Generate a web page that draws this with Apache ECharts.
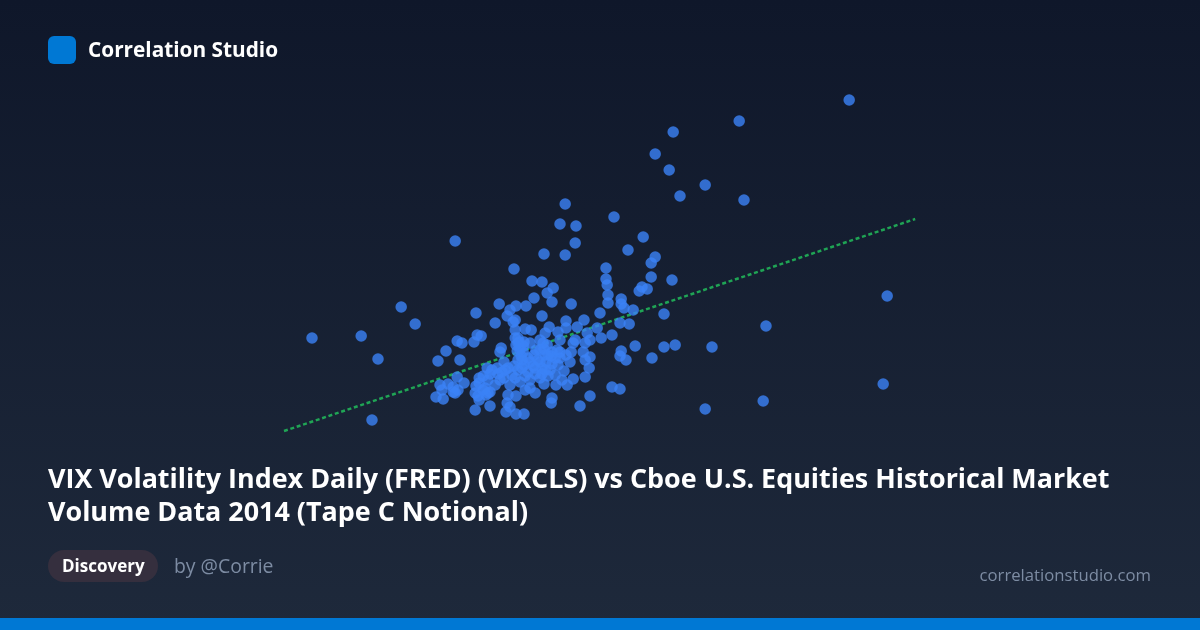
<!DOCTYPE html>
<html><head><meta charset="utf-8">
<style>html,body{margin:0;padding:0;background:#0f172a}#c{width:1200px;height:630px}</style>
<script src="https://cdn.jsdelivr.net/npm/echarts@6/dist/echarts.min.js"></script>
</head><body><div id="c"></div>
<script>
const brand = "Correlation Studio";
const titleLines = ["VIX Volatility Index Daily (FRED) (VIXCLS) vs Cboe U.S. Equities Historical Market","Volume Data 2014 (Tape C Notional)"];
const tag = "Discovery";
const author = "by @Corrie";
const site = "correlationstudio.com";
const vix = [
23.73,20.98,19.33,18.88,19.23,20.13,19.5,21.1,16.63,17.85,
16.5,16.9,18.58,13.88,16.88,18.2,16.1,16.63,18.88,18.78,
17.65,15.35,19.3,18.78,17.65,15.8,16.05,17.68,18.55,18.48,
18.68,16.33,16.18,24.68,17.7,15.85,18.03,16.3,17.7,16.78,
14.98,18.03,18.1,12.53,15.4,15.65,18.33,17.5,14.4,15.25,
15.18,19.1,16.05,15.33,15.38,14.88,16.65,17.1,18,18.23,
21.65,16.23,15.63,15.78,15.38,16.45,16.65,16.93,17.43,12.88,
11.53,10.3,14.43,14.53,14.35,13.93,14.05,13.65,13.45,14,
15.03,15,15.38,15.45,15.75,15.5,15.58,16.13,16.08,16.18,
16.88,16.83,17.18,17.25,17.13,17.53,17.8,18.38,18.8,18.03,
18,18.15,17.25,17.08,17.13,16.78,17.23,17.13,16.83,16.6,
16.68,17.8,18,17.25,17,16.3,16.28,15.88,15.4,15.63,
15.2,14.75,14.38,15.15,15.4,15.6,15.25,15.18,14.48,14.38,
14.7,14.48,14.48,14.1,13.93,13.83,13.88,13.5,13.55,13.4,
13.58,20.3,19.38,19.1,24.58,21.58,20.13,11.95,11.8,14.68,
14.8,14.93,15.05,15.2,15.3,15.45,15.6,15.7,15.83,15.95,
16.05,16.15,16.25,16.38,16.45,16.2,16,15.75,15.5,15.25,
15,14.88,14.7,14.63,16.5,16.3,16,15.85,15.7,15.45,
15.48,15.58,15.43,15.53,16.13,16.38,16.55,16.4,15.88,16.05,
14.58,14.75,15.1,15.38,15.63,15.88,16.13,16.3,16.5,16.2,
15.75,15.55,15.35,15.13,14.95,16,15.9,16.1,16.28,16.43,
15.45,15.5,15.6,15.4,15.55,14.65,14.75,14.45,14.58,13.95,
13.83,13.7,14.4,15.75,16.1,16.75,16.65,15.1,16,16.5
];
const notional = [
140,134.75,132,126.5,122.5,118.75,116,115,114,110.75,
109,108.5,105.75,104.75,104.25,102.5,101.5,101.25,100.75,99.25,
98,97.75,95,95.75,95.25,94.75,94.5,93.75,93.25,92.25,
92.75,93,91.75,91,91.25,90.5,90.25,89.5,89.25,89,
89,89,88,88.25,88.5,88.5,87.5,86.75,86.75,87.5,
86,86.5,86,84.5,85,84.25,84.75,85,84.25,84,
83.5,83.25,82.75,82.5,82.5,82,83,83.25,83,84,
81,80.5,81.25,81,79.5,79.75,79.25,77.25,74.75,75,
78,77,80.5,80.5,79.25,78.25,77,81.75,79.25,78.75,
80,79.25,81.75,80,79.25,80.5,81.25,78.5,75.5,77.25,
76,75,75.75,77,75,77,73,70.75,70.25,72.25,
68.75,68.25,67.75,66,63.5,65.5,64.25,66.75,66,67.5,
66.25,63.5,62.5,62,61.5,61.5,63.25,64.25,65,66.75,
66.75,70.5,69.25,69.25,70.75,68.25,66.75,68.75,67.5,65.75,
65.25,78.25,78.75,78.25,69,64.75,62.75,75.25,60,73,
72.5,73,72,73,71.25,72.5,73.75,72,73.5,75,
73,74.5,72.5,75.5,73.75,71,70.5,70,69.5,68.75,
70,68.75,70,68,77,77,77.5,76.25,75.5,75,
79.5,78.5,77.25,76,76.25,71.25,70,68.75,73,71.5,
71,71.5,70.5,70.5,71,71.5,72.5,74,75.5,76.25,
74.5,73,73.5,72.5,71.5,74.5,77.5,77.75,76,77.5,
79.25,77.5,79.5,78.75,75,66.25,67,66,67.5,67.5,
67,69,68.5,68,69,74.5,76.25,74.5,80,80
];
const trendVix = [9.6, 25.38];
const trendNotional = [57.25, 110.25];

const FONT = '"Open Sans","Noto Sans",sans-serif';
const chart = echarts.init(document.getElementById('c'), null, {renderer:'canvas', width:1200, height:630});
chart.setOption({
  animation:false,
  backgroundColor:{type:'linear',x:0,y:0,x2:0,y2:1,colorStops:[{offset:0,color:'#0f172a'},{offset:1,color:'#1e293b'}]},
  grid:{left:100,top:60,width:1000,height:400},
  xAxis:{type:'value',min:5,max:30,show:false},
  yAxis:{type:'value',min:50,max:150,show:false},
  series:[
    {type:'line',z:1,symbol:'none',silent:true,
     data:trendVix.map((v,i)=>[v,trendNotional[i]]),
     lineStyle:{color:'#22c55e',width:2.5,opacity:0.8,type:[4,2.7]}},
    {type:'scatter',z:2,symbolSize:11.5,
     data:vix.map((v,i)=>[v,notional[i]]),
     itemStyle:{color:'#3b82f6',opacity:0.8}}
  ],
  graphic:[
    {type:'rect',shape:{x:48,y:36,width:28,height:28,r:6},style:{fill:'#0078d4'}},
    {type:'text',style:{x:88,y:51,text:brand,fill:'#fff',font:'700 20.8px '+FONT,textVerticalAlign:'middle'}},
    {type:'text',style:{x:48,y:480,text:titleLines[0],fill:'#fff',font:'700 26.9px '+FONT,textVerticalAlign:'middle'}},
    {type:'text',style:{x:48,y:513,text:titleLines[1],fill:'#fff',font:'700 26.9px '+FONT,textVerticalAlign:'middle'}},
    {type:'rect',shape:{x:48,y:550,width:110,height:32,r:16},style:{fill:'#352f3e'}},
    {type:'text',style:{x:62,y:567,text:tag,fill:'#fff',font:'700 17px '+FONT,textVerticalAlign:'middle'}},
    {type:'text',style:{x:174,y:567,text:author,fill:'#7d8ca3',font:'400 19.4px '+FONT,textVerticalAlign:'middle'}},
    {type:'text',style:{x:1151,y:576,text:site,fill:'#7d8ca3',font:'400 16.7px '+FONT,textAlign:'right',textVerticalAlign:'middle'}},
    {type:'rect',shape:{x:0,y:618,width:1200,height:12},style:{fill:'#0078d4'}}
  ]
});
</script></body></html>
